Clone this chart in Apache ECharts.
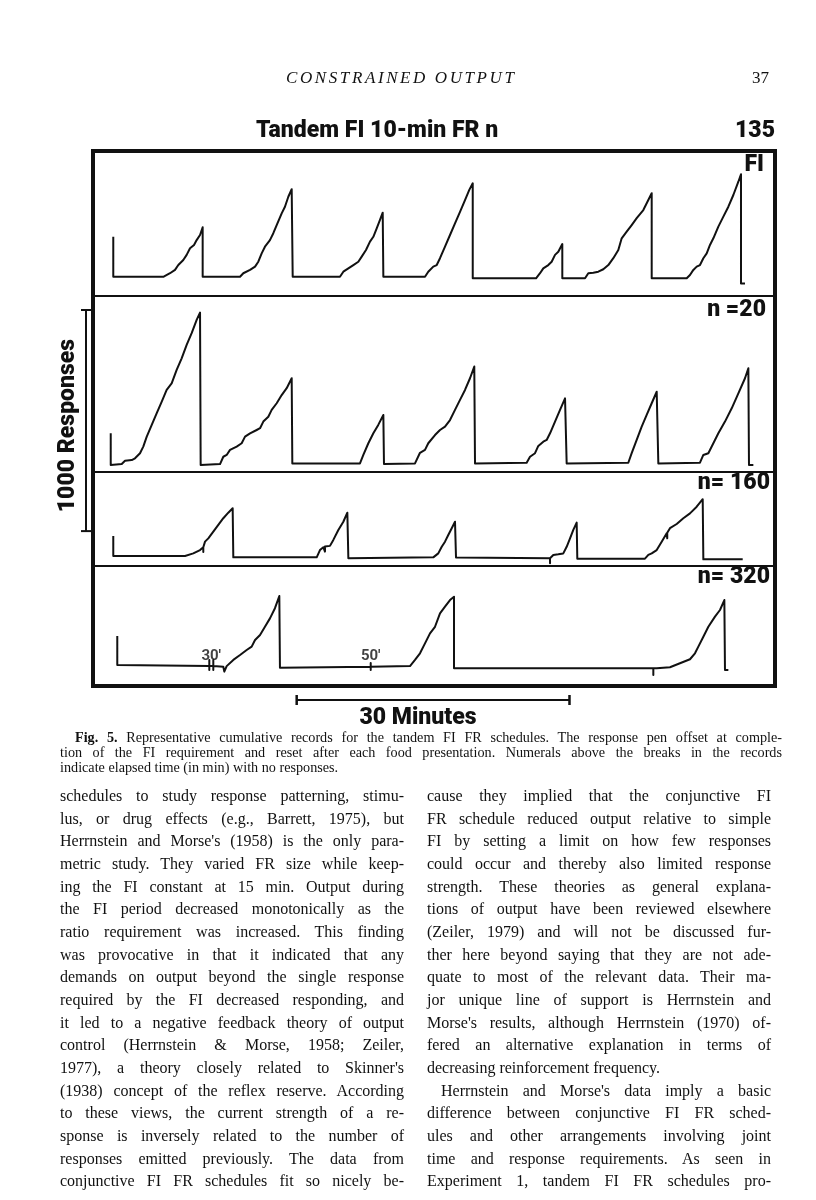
<!DOCTYPE html>
<html>
<head>
<meta charset="utf-8">
<title>Tandem FI 10-min FR n</title>
<script src="https://cdn.jsdelivr.net/npm/echarts@6/dist/echarts.min.js"></script>
<style>
  html, body { margin: 0; padding: 0; background: #fff; }
  #page { position: relative; width: 816px; height: 1200px; overflow: hidden; }
  #main { position: absolute; left: 0; top: 0; width: 816px; height: 1200px; }
  .txt { position: absolute; font-family: "Liberation Serif", "DejaVu Serif", serif; color: #111; }
  .line { text-align: justify; text-align-last: justify; white-space: normal; }
  .last { text-align-last: left; }
  #head { left: 0; top: 68px; width: 816px; font-size: 17px; font-style: italic; letter-spacing: 2.6px; }
  #caption { left: 60px; top: 730px; width: 722px; font-size: 14.2px; line-height: 15px; }
  #caption .first { text-indent: 15px; }
  .col { top: 785px; width: 344px; font-size: 16px; line-height: 22.65px; }
  #colL { left: 60px; }
  #colR { left: 427px; }
  .indent { text-indent: 14px; }
</style>
</head>
<body>
<div id="page">
  <div id="main"></div>

  <div class="txt" id="head">
    <span style="position:absolute;left:286px;">CONSTRAINED OUTPUT</span>
    <span style="position:absolute;left:752px;font-style:normal;letter-spacing:0;">37</span>
  </div>

  <div class="txt" id="caption">
    <div class="line first"><b>Fig. 5.</b> Representative cumulative records for the tandem FI FR schedules. The response pen offset at comple-</div>
    <div class="line">tion of the FI requirement and reset after each food presentation. Numerals above the breaks in the records</div>
    <div class="line last">indicate elapsed time (in min) with no responses.</div>
  </div>

  <div class="txt col" id="colL">
    <div class="line">schedules to study response patterning, stimu-</div>
    <div class="line">lus, or drug effects (e.g., Barrett, 1975), but</div>
    <div class="line">Herrnstein and Morse's (1958) is the only para-</div>
    <div class="line">metric study. They varied FR size while keep-</div>
    <div class="line">ing the FI constant at 15 min. Output during</div>
    <div class="line">the FI period decreased monotonically as the</div>
    <div class="line">ratio requirement was increased. This finding</div>
    <div class="line">was provocative in that it indicated that any</div>
    <div class="line">demands on output beyond the single response</div>
    <div class="line">required by the FI decreased responding, and</div>
    <div class="line">it led to a negative feedback theory of output</div>
    <div class="line">control (Herrnstein &amp; Morse, 1958; Zeiler,</div>
    <div class="line">1977), a theory closely related to Skinner's</div>
    <div class="line">(1938) concept of the reflex reserve. According</div>
    <div class="line">to these views, the current strength of a re-</div>
    <div class="line">sponse is inversely related to the number of</div>
    <div class="line">responses emitted previously. The data from</div>
    <div class="line">conjunctive FI FR schedules fit so nicely be-</div>
  </div>

  <div class="txt col" id="colR">
    <div class="line">cause they implied that the conjunctive FI</div>
    <div class="line">FR schedule reduced output relative to simple</div>
    <div class="line">FI by setting a limit on how few responses</div>
    <div class="line">could occur and thereby also limited response</div>
    <div class="line">strength. These theories as general explana-</div>
    <div class="line">tions of output have been reviewed elsewhere</div>
    <div class="line">(Zeiler, 1979) and will not be discussed fur-</div>
    <div class="line">ther here beyond saying that they are not ade-</div>
    <div class="line">quate to most of the relevant data. Their ma-</div>
    <div class="line">jor unique line of support is Herrnstein and</div>
    <div class="line">Morse's results, although Herrnstein (1970) of-</div>
    <div class="line">fered an alternative explanation in terms of</div>
    <div class="line last">decreasing reinforcement frequency.</div>
    <div class="line indent">Herrnstein and Morse's data imply a basic</div>
    <div class="line">difference between conjunctive FI FR sched-</div>
    <div class="line">ules and other arrangements involving joint</div>
    <div class="line">time and response requirements. As seen in</div>
    <div class="line">Experiment 1, tandem FI FR schedules pro-</div>
  </div>
</div>

<script>
// cumulative records: [minutes, cumulative responses above bottom of strip]
// pen resets show as vertical drops at the same minute
var fiRecord = [
    [2.23,268],[2.23,87],[7.73,87],[7.92,95],[8.47,103],[9.02,118],[9.38,140],[9.93,163],[10.30,186],[10.67,216],[11.11,231],[11.40,253],[11.77,276],[12.06,311],[12.06,87],
    [16.17,87],[16.53,103],[17.27,118],[17.82,133],[18.18,155],[18.55,193],[18.91,223],[19.46,253],[19.83,284],[20.20,321],[20.75,374],[21.11,404],[21.48,449],[21.85,483],[21.96,87],
    [27.16,87],[27.53,110],[28.08,125],[28.63,140],[29.18,155],[29.55,178],[30.02,208],[30.46,246],[30.83,268],[31.20,306],[31.56,344],[31.86,377],[31.93,87],
    [36.51,87],[36.87,110],[37.06,118],[37.42,133],[37.80,140],[38.16,171],[38.71,223],[39.26,276],[39.81,329],[40.36,381],[40.91,434],[41.38,480],[41.76,510],[41.76,80],
    [48.72,80],[49.16,103],[49.52,125],[50.07,140],[50.44,155],[50.81,186],[51.17,200],[51.61,235],[51.61,80],
    [54.11,80],[54.47,103],[55.02,105],[55.57,110],[56.12,121],[56.67,140],[57.22,171],[57.77,208],[58.14,261],[58.69,291],[59.24,321],[59.79,352],[60.52,389],[61.44,465],[61.44,80],
    [65.29,80],[65.65,95],[66.02,118],[66.39,133],[66.75,140],[67.12,171],[67.49,193],[67.85,231],[68.22,261],[68.77,314],[69.32,359],[69.87,404],[70.42,457],[70.97,517],[71.26,551],[71.26,57],[71.70,57]
];

var n20Record = [
    [1.95,175],[1.95,32],[3.16,36],[3.52,51],[4.26,54],[4.62,62],[5.17,85],[5.53,115],[5.91,160],[6.46,213],[7.01,266],[7.56,318],[8.10,371],[8.65,401],[9.20,462],[9.75,514],[10.30,575],[10.85,628],[11.40,688],[11.77,721],[11.84,32],
    [13.97,36],[14.33,69],[14.70,77],[15.07,100],[15.80,115],[16.35,130],[16.72,160],[17.27,175],[18.00,190],[18.37,198],[18.73,228],[19.28,250],[19.65,281],[20.20,311],[20.75,348],[21.30,379],[21.85,424],[21.92,39],
    [29.36,39],[29.73,77],[30.28,130],[30.83,175],[31.37,213],[31.93,258],[32.00,36],
    [35.41,39],[35.96,87],[36.51,100],[36.87,130],[37.06,137],[37.61,167],[38.16,190],[38.71,205],[39.26,235],[39.81,281],[40.36,326],[40.91,371],[41.46,424],[41.93,477],[42.01,39],
    [47.69,42],[48.06,69],[48.61,85],[48.97,118],[49.52,137],[49.89,145],[50.26,175],[50.81,228],[51.36,281],[51.91,333],[52.09,39],
    [58.87,42],[59.24,85],[59.79,145],[60.34,205],[60.89,258],[61.44,311],[61.99,363],[62.17,39],
    [66.75,42],[67.12,77],[67.67,85],[68.22,130],[68.77,175],[69.50,228],[70.24,288],[70.97,356],[71.70,424],[72.07,469],[72.14,32],[72.62,32]
];

var n160Record = [
    [2.23,136],[2.23,45],[10.12,45],[10.30,53],[11.03,57],[11.77,72],[12.13,85],[12.13,63],[12.13,85],[12.32,110],[12.68,125],[13.23,155],[13.78,186],[14.33,216],[14.88,241],[15.36,261],[15.43,39],
    [24.60,39],[24.96,72],[25.33,85],[25.51,65],[25.51,88],[26.06,91],[26.43,118],[26.98,163],[27.53,200],[27.97,241],[28.08,35],
    [37.42,39],[37.61,45],[37.97,57],[38.35,87],[38.71,110],[39.07,140],[39.45,171],[39.81,200],[39.92,38],
    [50.26,35],[50.26,12],[50.26,35],[50.62,50],[51.17,53],[51.72,57],[52.09,87],[52.46,125],[52.82,163],[53.19,196],[53.26,33],
    [60.70,33],[61.07,50],[61.44,57],[61.99,72],[62.54,110],[63.09,148],[63.15,125],[63.15,150],[63.45,171],[64.19,190],[64.92,216],[65.65,238],[66.39,268],[67.05,302],[67.12,30],[71.45,30]
];

var n320Record = [
    [2.67,226],[2.67,95],[12.79,90],[12.79,118],[12.79,72],[12.79,90],[13.23,90],[13.23,118],[13.23,72],[13.23,90],[14.33,87],[14.44,65],[14.70,90],[15.43,118],[16.17,140],[16.90,163],[17.45,178],[17.82,208],[18.37,231],[18.91,268],[19.46,306],[20.01,352],[20.49,407],[20.56,83],
    [30.54,87],[30.54,104],[30.54,72],[30.54,87],[34.86,90],[35.41,118],[35.96,148],[36.51,193],[37.06,238],[37.61,268],[38.16,329],[38.71,359],[39.26,389],[39.70,404],[39.70,80],
    [61.62,80],[61.62,50],[61.62,80],[61.99,80],[63.45,85],[64.55,103],[65.65,121],[66.20,148],[66.57,178],[67.12,223],[67.67,268],[68.40,314],[68.95,344],[69.43,389],[69.50,72],[69.87,72]
];

// numerals above the breaks (elapsed minutes without responding)
var breakLabels = [[13.0,133,"30'"],[30.54,133,"50'"]];

var panelNames = ['FI', 'n =20', 'n= 160', 'n= 320'];
var panelMaxResp = [656, 796, 425, 543];   // response range of each strip
var records = [fiRecord, n20Record, n160Record, n320Record];

var totalMinutes = 75;
var scaleMinutes = 30, scaleStart = 22.4;
var scaleResponses = 1000;

var titleText = 'Tandem FI 10-min FR n';
var subjectText = '135';
var yScaleText = '1000 Responses';
var xScaleText = '30 Minutes';

var myChart = echarts.init(document.getElementById('main'), null, {renderer: 'canvas'});

var boldFont = 'Roboto, "DejaVu Sans", sans-serif';

// strips: top and height in pixels
var stripTop = [151, 296, 472, 566];
var stripH = [145, 176, 94, 120];

var grids = [], xAxes = [], yAxes = [], series = [];
for (var i = 0; i < 4; i++) {
    grids.push({
        left: 93, top: stripTop[i], width: 682, height: stripH[i],
        show: true, borderColor: '#111', borderWidth: 2, backgroundColor: 'transparent'
    });
    xAxes.push({type: 'value', gridIndex: i, min: 0, max: totalMinutes, show: false});
    yAxes.push({type: 'value', gridIndex: i, min: 0, max: panelMaxResp[i], show: false});
    series.push({
        type: 'line',
        xAxisIndex: i,
        yAxisIndex: i,
        data: records[i],
        showSymbol: false,
        symbol: 'none',
        lineStyle: {color: '#111', width: 2, join: 'round'},
        silent: true
    });
}

// break numerals
series.push({
    type: 'scatter',
    xAxisIndex: 3,
    yAxisIndex: 3,
    symbolSize: 0,
    data: breakLabels,
    label: {
        show: true,
        position: 'inside',
        formatter: function (p) { return p.value[2]; },
        fontFamily: boldFont,
        fontWeight: 'bold',
        fontSize: 15,
        color: '#111'
    }
});

var option = {
    animation: false,
    backgroundColor: 'transparent',
    grid: grids,
    xAxis: xAxes,
    yAxis: yAxes,
    series: series
};
myChart.setOption(option);

// frame, labels and scale bars placed with the chart's own scales
var xa = myChart.convertToPixel({xAxisIndex: 3}, scaleStart);
var xb = myChart.convertToPixel({xAxisIndex: 3}, scaleStart + scaleMinutes);
var barLen = myChart.convertToPixel({yAxisIndex: 1}, 0) - myChart.convertToPixel({yAxisIndex: 1}, scaleResponses);
var yTop = 310;

var graphics = [
    // heavy outer frame
    {type: 'rect', shape: {x: 93, y: 151, width: 682, height: 535}, style: {fill: null, stroke: '#111', lineWidth: 4}},
    // title
    {type: 'text', x: 256, y: 131, style: {text: titleText, font: '900 23px ' + boldFont, fill: '#111', textVerticalAlign: 'middle'}},
    {type: 'text', x: 775, y: 131, style: {text: subjectText, font: '900 23px ' + boldFont, fill: '#111', textAlign: 'right', textVerticalAlign: 'middle'}},
    // 30 minutes bar
    {type: 'line', shape: {x1: xa, y1: 700, x2: xb, y2: 700}, style: {stroke: '#111', lineWidth: 2}},
    {type: 'line', shape: {x1: xa, y1: 695, x2: xa, y2: 705}, style: {stroke: '#111', lineWidth: 2.5}},
    {type: 'line', shape: {x1: xb, y1: 695, x2: xb, y2: 705}, style: {stroke: '#111', lineWidth: 2.5}},
    {type: 'text', x: 418, y: 718, style: {text: xScaleText, font: '900 23px ' + boldFont, fill: '#111', textAlign: 'center', textVerticalAlign: 'middle'}},
    // 1000 responses bar
    {type: 'line', shape: {x1: 86, y1: yTop, x2: 86, y2: yTop + barLen}, style: {stroke: '#111', lineWidth: 2}},
    {type: 'line', shape: {x1: 81, y1: yTop, x2: 91, y2: yTop}, style: {stroke: '#111', lineWidth: 2}},
    {type: 'line', shape: {x1: 81, y1: yTop + barLen, x2: 91, y2: yTop + barLen}, style: {stroke: '#111', lineWidth: 2}},
    {type: 'text', x: 68, y: yTop + barLen / 2 + 5, rotation: Math.PI / 2,
        style: {text: yScaleText, font: '900 23px ' + boldFont, fill: '#111', textAlign: 'center', textVerticalAlign: 'middle'}}
];

// strip names at the upper right of each strip
var nameY = [165, 310, 483, 577];
var nameRight = [764, 766, 770, 770];
for (var k = 0; k < panelNames.length; k++) {
    graphics.push({type: 'text', x: nameRight[k], y: nameY[k],
        style: {text: panelNames[k], font: '900 23px ' + boldFont, fill: '#111', textAlign: 'right', textVerticalAlign: 'middle'}});
}

myChart.setOption({graphic: graphics});
</script>
</body>
</html>
